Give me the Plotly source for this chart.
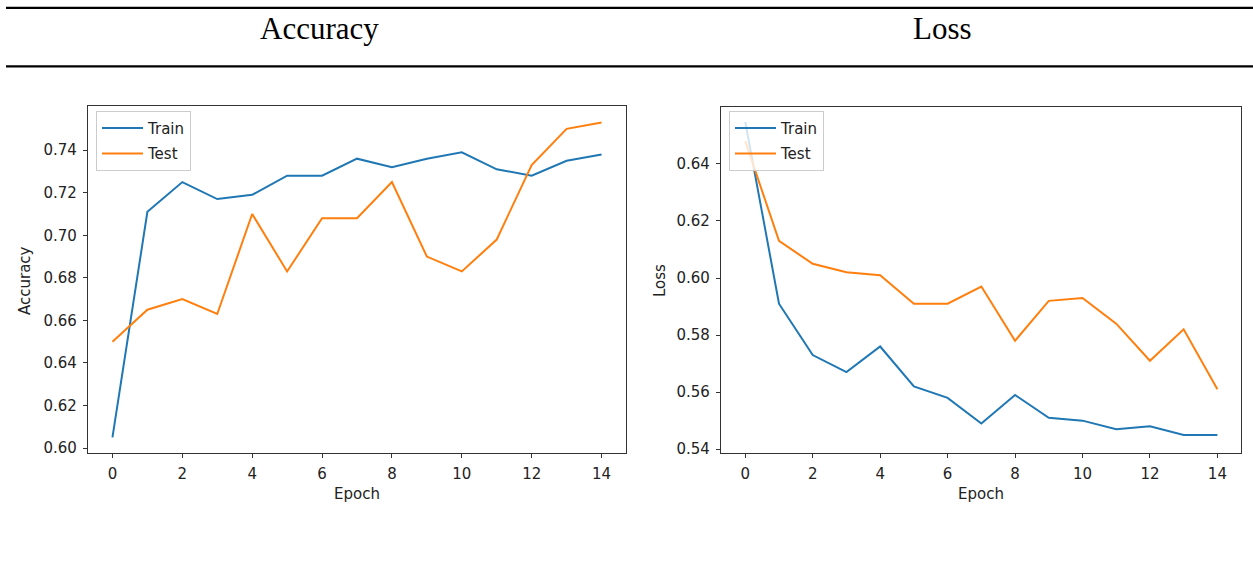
import plotly.graph_objects as go

epochs = list(range(15))
acc_train = [0.605, 0.711, 0.725, 0.717, 0.719, 0.728, 0.728, 0.736, 0.732, 0.736, 0.739, 0.731, 0.728, 0.735, 0.738]
acc_test = [0.650, 0.665, 0.670, 0.663, 0.710, 0.683, 0.708, 0.708, 0.725, 0.690, 0.683, 0.698, 0.733, 0.750, 0.753]
loss_train = [0.6547, 0.591, 0.573, 0.567, 0.576, 0.562, 0.558, 0.549, 0.559, 0.551, 0.550, 0.547, 0.548, 0.545, 0.545]
loss_test = [0.648, 0.613, 0.605, 0.602, 0.601, 0.591, 0.591, 0.597, 0.578, 0.592, 0.593, 0.584, 0.571, 0.582, 0.561]
x_ticks = [0, 2, 4, 6, 8, 10, 12, 14]
acc_ticks = [0.60, 0.62, 0.64, 0.66, 0.68, 0.70, 0.72, 0.74]
loss_ticks = [0.54, 0.56, 0.58, 0.60, 0.62, 0.64]

W, H = 1253, 571
BLUE = "#1f77b4"
ORANGE = "#ff7f0e"
TXT = "#222222"
TICKFONT = dict(family="DejaVu Sans", size=15, color=TXT)


def px(x):
    return x / W


def py(y):
    return 1 - y / H


fig = go.Figure()
fig.add_trace(go.Scatter(x=epochs, y=acc_train, mode="lines", name="Train", legendgroup="a1",
                         line=dict(color=BLUE, width=2), xaxis="x", yaxis="y", legend="legend"))
fig.add_trace(go.Scatter(x=epochs, y=acc_test, mode="lines", name="Test", legendgroup="a2",
                         line=dict(color=ORANGE, width=2), xaxis="x", yaxis="y", legend="legend"))
fig.add_trace(go.Scatter(x=epochs, y=loss_train, mode="lines", name="Train", legendgroup="b1",
                         line=dict(color=BLUE, width=2), xaxis="x2", yaxis="y2", legend="legend2"))
fig.add_trace(go.Scatter(x=epochs, y=loss_test, mode="lines", name="Test", legendgroup="b2",
                         line=dict(color=ORANGE, width=2), xaxis="x2", yaxis="y2", legend="legend2"))

axis_common = dict(showgrid=False, zeroline=False, showline=True, linecolor="#333333", linewidth=1.3,
                   mirror=True, ticks="outside", ticklen=4, tickwidth=1, tickcolor="#333333",
                   tickfont=TICKFONT, ticklabelstandoff=3)

legend_common = dict(xanchor="left", yanchor="top", bgcolor="rgba(255,255,255,0.8)",
                     bordercolor="#cccccc", borderwidth=1, tracegroupgap=3,
                     font=dict(family="DejaVu Sans", size=15, color=TXT), itemwidth=41)

fig.update_layout(
    width=W, height=H,
    margin=dict(l=0, r=0, t=0, b=0),
    paper_bgcolor="white", plot_bgcolor="white",
    xaxis=dict(domain=[px(88), px(626)], range=[-0.7, 14.7], tickvals=x_ticks,
               anchor="y", **axis_common),
    yaxis=dict(domain=[py(458), py(107)], range=[0.5976, 0.7608], tickvals=acc_ticks,
               tickformat=".2f", anchor="x", **axis_common),
    xaxis2=dict(domain=[px(721), px(1241)], range=[-0.72, 14.7], tickvals=x_ticks,
                anchor="y2", **axis_common),
    yaxis2=dict(domain=[py(457.7), py(108)], range=[0.5387, 0.66], tickvals=loss_ticks,
                tickformat=".2f", anchor="x2", **axis_common),
    legend=dict(x=px(96), y=py(112), **legend_common),
    legend2=dict(x=px(729), y=py(112), **legend_common),
    showlegend=True,
)

# header rules
for yy in (8, 67):
    fig.add_shape(type="line", xref="paper", yref="paper", x0=px(6), x1=1, y0=py(yy), y1=py(yy),
                  line=dict(color="black", width=2.2))

header_font = dict(family="Liberation Serif", size=31, color="black")
fig.add_annotation(text="Accuracy", xref="paper", yref="paper", x=px(319), y=py(29),
                   xanchor="center", yanchor="middle", showarrow=False, font=header_font)
fig.add_annotation(text="Loss", xref="paper", yref="paper", x=px(942), y=py(29),
                   xanchor="center", yanchor="middle", showarrow=False, font=header_font)

label_font = dict(family="DejaVu Sans", size=15, color=TXT)
fig.add_annotation(text="Epoch", xref="paper", yref="paper", x=px(357), y=py(499),
                   xanchor="center", yanchor="middle", showarrow=False, font=label_font)
fig.add_annotation(text="Epoch", xref="paper", yref="paper", x=px(981), y=py(499),
                   xanchor="center", yanchor="middle", showarrow=False, font=label_font)
fig.add_annotation(text="Accuracy", xref="paper", yref="paper", x=px(25), y=py(284),
                   xanchor="center", yanchor="middle", showarrow=False, font=label_font, textangle=-90)
fig.add_annotation(text="Loss", xref="paper", yref="paper", x=px(660), y=py(284),
                   xanchor="center", yanchor="middle", showarrow=False, font=label_font, textangle=-90)

fig.write_html(
    "out.html",
    config={"displayModeBar": False},
    post_script=(
        "document.documentElement.style.margin='0px';"
        "document.body.style.margin='0px';"
        "document.documentElement.style.overflow='hidden';"
        "document.body.style.overflow='hidden';"
    ),
)
